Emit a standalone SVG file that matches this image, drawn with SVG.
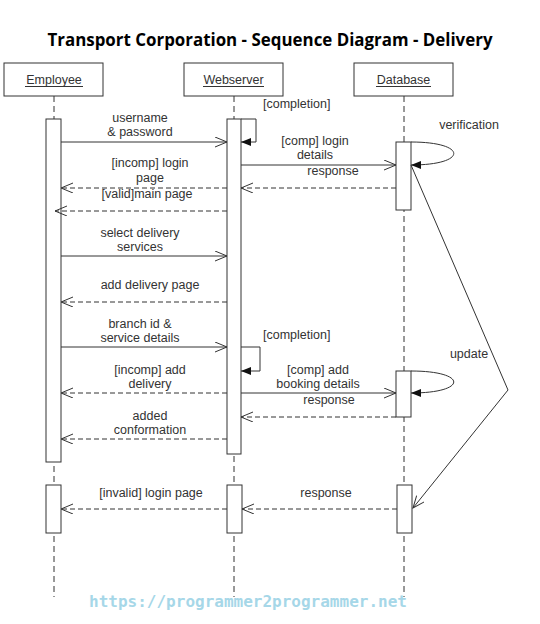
<svg xmlns="http://www.w3.org/2000/svg" width="540" height="624" viewBox="0 0 540 624">
<style>
.t{font-family:"Liberation Sans",Arial,sans-serif;font-size:12.5px;fill:#333}
.c{text-anchor:middle}
.box{fill:#fff;stroke:#333;stroke-width:1}
.act{fill:#fff;stroke:#333;stroke-width:1}
.life{stroke:#333;stroke-width:1;stroke-dasharray:6,4;fill:none}
.msg{stroke:#333;stroke-width:1;fill:none}
.ret{stroke:#333;stroke-width:1;fill:none;stroke-dasharray:5,3}
</style>
<defs>
<marker id="open" markerUnits="userSpaceOnUse" markerWidth="14" markerHeight="12" refX="12" refY="5" orient="auto"><path d="M0,0 L12,5 L0,10" fill="none" stroke="#333" stroke-width="1"/></marker>
<marker id="fill" markerUnits="userSpaceOnUse" markerWidth="12" markerHeight="10" refX="10" refY="4" orient="auto"><path d="M0,0 L10,4 L0,8 z" fill="#111"/></marker>
</defs>
<rect width="540" height="624" fill="#fff"/>
<text x="270" y="45.5" text-anchor="middle" style="font-family:'Open Sans',sans-serif;font-weight:700;font-size:18px;fill:#000" textLength="445" lengthAdjust="spacingAndGlyphs">Transport Corporation - Sequence Diagram - Delivery</text>

<g id="lifelines">
<line class="life" x1="54" y1="96" x2="54" y2="597"/>
<line class="life" x1="234" y1="96" x2="234" y2="597"/>
<line class="life" x1="404" y1="96" x2="404" y2="597"/>
</g>

<g id="employee">
<rect class="box" x="4" y="63" width="99" height="33"/>
<text class="t c" x="54" y="83.5">Employee</text>
<line x1="25" y1="86.5" x2="83" y2="86.5" stroke="#333" stroke-width="1"/>
<rect class="act" x="46" y="119" width="15" height="343"/>
<rect class="act" x="46" y="485" width="15" height="48"/>
</g>

<g id="webserver">
<rect class="box" x="184" y="63" width="99" height="33"/>
<text class="t c" x="233.5" y="83.5">Webserver</text>
<line x1="203" y1="86.5" x2="264" y2="86.5" stroke="#333" stroke-width="1"/>
<rect class="act" x="227" y="119" width="14" height="335"/>
<rect class="act" x="227" y="485" width="15" height="48"/>
</g>

<g id="database">
<rect class="box" x="354" y="63" width="99" height="33"/>
<text class="t c" x="403.5" y="83.5">Database</text>
<line x1="376" y1="86.5" x2="431" y2="86.5" stroke="#333" stroke-width="1"/>
<rect class="act" x="396" y="142" width="15" height="68"/>
<rect class="act" x="396" y="371" width="15" height="46"/>
<rect class="act" x="397" y="485" width="15" height="48"/>
</g>

<g id="connectors">
<line class="msg" x1="61" y1="142" x2="227" y2="142" marker-end="url(#open)"/>
<path class="msg" d="M241,119 H256 V142 H241" marker-end="url(#fill)"/>
<line class="msg" x1="241" y1="165" x2="396" y2="165" marker-end="url(#open)"/>
<line class="ret" x1="396" y1="188" x2="241" y2="188" marker-end="url(#open)"/>
<line class="ret" x1="227" y1="188" x2="61" y2="188" marker-end="url(#open)"/>
<line class="ret" x1="227" y1="211" x2="55" y2="211" marker-end="url(#open)"/>
<path class="msg" d="M411,142 C468,142 468,165 411,165" marker-end="url(#fill)"/>
<path class="msg" d="M411,165 L508,390 L413,508" marker-end="url(#open)"/>
<line class="msg" x1="61" y1="256" x2="227" y2="256" marker-end="url(#open)"/>
<line class="ret" x1="227" y1="302" x2="61" y2="302" marker-end="url(#open)"/>
<line class="msg" x1="61" y1="347" x2="227" y2="347" marker-end="url(#open)"/>
<path class="msg" d="M241,347 H260 V371 H241" marker-end="url(#fill)"/>
<line class="msg" x1="241" y1="393" x2="396" y2="393" marker-end="url(#open)"/>
<path class="msg" d="M411,371 C468,371 468,393 411,393" marker-end="url(#fill)"/>
<line class="ret" x1="396" y1="417" x2="241" y2="417" marker-end="url(#open)"/>
<line class="ret" x1="227" y1="393" x2="61" y2="393" marker-end="url(#open)"/>
<line class="ret" x1="227" y1="439" x2="61" y2="439" marker-end="url(#open)"/>
<line class="ret" x1="397" y1="509" x2="242" y2="509" marker-end="url(#open)"/>
<line class="ret" x1="227" y1="509" x2="61" y2="509" marker-end="url(#open)"/>
</g>

<g id="labels">
<text class="t c" x="140" y="122">username</text>
<text class="t c" x="140" y="136">&amp; password</text>
<text class="t" x="263" y="108">[completion]</text>
<text class="t c" x="315" y="145">[comp] login</text>
<text class="t c" x="315" y="158.5">details</text>
<text class="t c" x="333" y="175">response</text>
<text class="t c" x="150" y="167">[incomp] login</text>
<text class="t c" x="150" y="182">page</text>
<text class="t c" x="147" y="197.5">[valid]main page</text>
<text class="t c" x="469" y="128.5">verification</text>
<text class="t c" x="140" y="236.5">select delivery</text>
<text class="t c" x="140" y="250.5">services</text>
<text class="t c" x="150" y="288.5">add delivery page</text>
<text class="t c" x="140" y="327.5">branch id &amp;</text>
<text class="t c" x="140" y="341.5">service details</text>
<text class="t" x="263" y="338.5">[completion]</text>
<text class="t c" x="469" y="357.5">update</text>
<text class="t c" x="318" y="373.5">[comp] add</text>
<text class="t c" x="318" y="387.5">booking details</text>
<text class="t c" x="329" y="403.5">response</text>
<text class="t c" x="150" y="373.5">[incomp] add</text>
<text class="t c" x="150" y="387.5">delivery</text>
<text class="t c" x="150" y="419.5">added</text>
<text class="t c" x="150" y="433.5">conformation</text>
<text class="t c" x="151" y="496.5">[invalid] login page</text>
<text class="t c" x="326" y="496.5">response</text>
</g>
<text x="248" y="607" text-anchor="middle" style="font-family:'DejaVu Sans Mono',monospace;font-weight:700;font-size:16px;fill:#a6d7e8">https://programmer2programmer.net</text>
</svg>
